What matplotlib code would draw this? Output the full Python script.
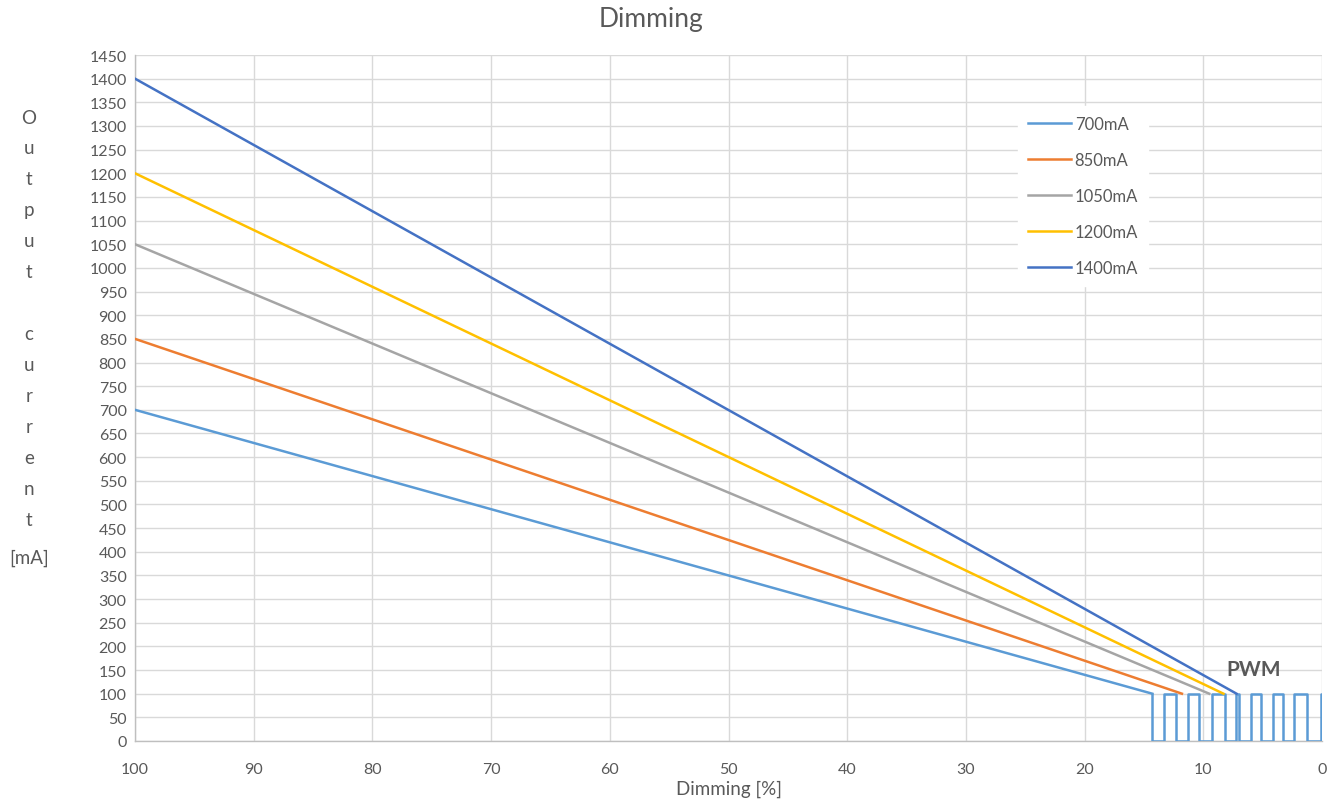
import matplotlib
matplotlib.use("Agg")
import matplotlib.pyplot as plt

plt.rcParams['font.family'] = ['Lato', 'DejaVu Sans']

# ---- data ----
series_names = ["700mA", "850mA", "1050mA", "1200mA", "1400mA"]
series_colors = ["#5B9BD5", "#ED7D31", "#A5A5A5", "#FFC000", "#4472C4"]
series_x = [
    [100, 14.3],
    [100, 11.8],
    [100, 9.5],
    [100, 8.3],
    [100, 7.2],
]
series_y = [
    [700, 100],
    [850, 100],
    [1050, 100],
    [1200, 100],
    [1400, 100],
]
pwm_x = [14.3, 14.3, 13.3, 13.3, 12.3, 12.3, 11.3, 11.3, 10.4, 10.4,
         9.3, 9.3, 8.2, 8.2, 7.25, 7.25, 7.0, 7.0, 6.0, 6.0, 5.1, 5.1,
         4.1, 4.1, 3.3, 3.3, 2.4, 2.4, 1.3, 1.3, 0.1, 0.1, 0.0]
pwm_y = [100, 0, 0, 100, 100, 0, 0, 100, 100, 0,
         0, 100, 100, 0, 0, 100, 100, 0, 0, 100, 100, 0,
         0, 100, 100, 0, 0, 100, 100, 0, 0, 100, 100]
x_ticks = [100, 90, 80, 70, 60, 50, 40, 30, 20, 10, 0]
y_ticks = list(range(0, 1451, 50))

title = "Dimming"
x_label = "Dimming [%]"
y_label_chars = ["O", "u", "t", "p", "u", "t", "", "c", "u", "r", "r", "e", "n", "t"]
y_label_unit = "[mA]"
pwm_label = "PWM"

# ---- figure ----
W, H = 1340, 803
fig = plt.figure(figsize=(W / 100, H / 100), dpi=100)
ax = fig.add_axes([135 / W, 1 - 742 / H, (1322 - 135) / W, (742 - 56) / H])

txt_col = "#595959"
grid_col = "#D9D9D9"

ax.plot(pwm_x, pwm_y, color=series_colors[0], lw=1.8, zorder=3)
for name, col, xs, ys in zip(series_names, series_colors, series_x, series_y):
    ax.plot(xs, ys, color=col, lw=1.8, label=name, zorder=4)

ax.set_xlim(100, 0)
ax.set_ylim(0, 1450)
ax.set_xticks(x_ticks)
ax.set_yticks(y_ticks)
ax.tick_params(axis='both', length=0, labelsize=11.5, labelcolor=txt_col, pad=6)
ax.tick_params(axis='x', pad=15)
ax.grid(True, color=grid_col, lw=1)
ax.set_axisbelow(True)
for s in ["top", "right"]:
    ax.spines[s].set_visible(False)
for s in ["left", "bottom"]:
    ax.spines[s].set_color("#BFBFBF")
    ax.spines[s].set_linewidth(1)

ax.set_xlabel(x_label, fontsize=13.5, color=txt_col, labelpad=3)

fig.text(651 / W, 1 - 20 / H, title, ha="center", va="center", fontsize=19, color=txt_col)

# vertical stacked y label
y0, y1 = 118, 520
n = len(y_label_chars)
for i, ch in enumerate(y_label_chars):
    yp = y0 + (y1 - y0) * i / (n - 1)
    fig.text(29 / W, 1 - yp / H, ch, ha="center", va="center", fontsize=13.5, color=txt_col)
fig.text(29 / W, 1 - 558 / H, y_label_unit, ha="center", va="center", fontsize=13.5, color=txt_col)

ax.text(5.8, 152, pwm_label, ha="center", va="center", fontsize=15, color=txt_col, fontweight="bold")

leg = ax.legend(loc="upper left", bbox_to_anchor=((1018 - 135) / (1322 - 135), 1 - (107 - 56) / (742 - 56)),
                frameon=True, fontsize=12, labelspacing=1.2, handlelength=2.6, handletextpad=0.2,
                borderpad=0.6, borderaxespad=0)
leg.get_frame().set_edgecolor("white")
leg.get_frame().set_facecolor("white")
leg.get_frame().set_alpha(1)
for t in leg.get_texts():
    t.set_color(txt_col)

fig.savefig("out.png", dpi=100, facecolor="white")
